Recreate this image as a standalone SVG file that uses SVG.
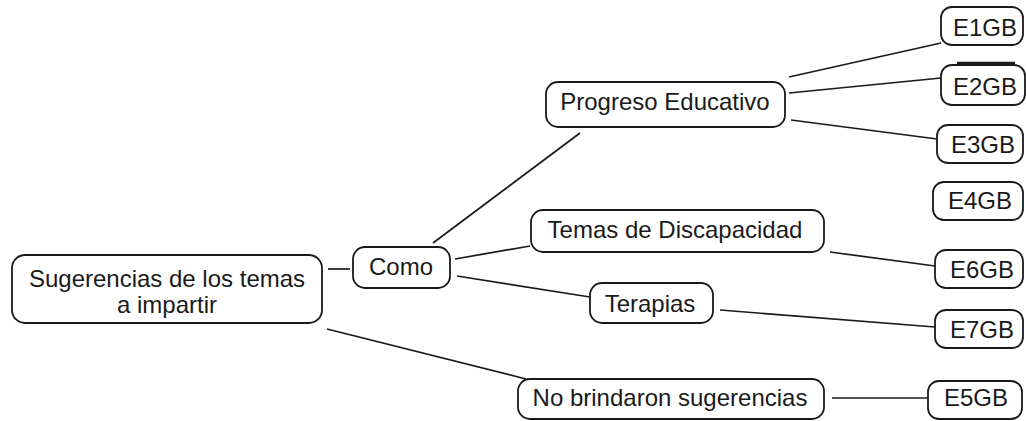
<svg xmlns="http://www.w3.org/2000/svg" width="1026" height="421" viewBox="0 0 1026 421">
<style>
.n{fill:#fff;stroke:#1a1a1a;stroke-width:1.8}
.t{font-family:"Liberation Sans",Arial,sans-serif;font-size:24px;fill:#1a1a1a;text-anchor:middle}
.c line{stroke:#1a1a1a;stroke-width:1.7}
</style>
<rect width="1026" height="421" fill="#fff"/>
<g class="c" id="connectors">
<line x1="328" y1="269" x2="350" y2="269"/>
<line x1="433" y1="243" x2="580" y2="133"/>
<line x1="455" y1="259" x2="530" y2="246"/>
<line x1="457" y1="276" x2="590" y2="297"/>
<line x1="327" y1="329" x2="526" y2="379"/>
<line x1="789" y1="77" x2="941" y2="43"/>
<line x1="789" y1="93" x2="941" y2="78"/>
<line x1="791" y1="120" x2="937" y2="139"/>
<line x1="830" y1="252" x2="935" y2="266"/>
<line x1="720" y1="310" x2="935" y2="327"/>
<line x1="832" y1="398" x2="928" y2="398"/>
<line x1="957" y1="63" x2="1015" y2="63" style="stroke-width:2.5"/>
</g>
<g id="root"><rect class="n" x="12" y="255" width="310" height="68" rx="13"/><text class="t" x="167" y="287">Sugerencias de los temas</text><text class="t" x="167" y="313">a impartir</text></g>
<g id="como"><rect class="n" x="353" y="247" width="97" height="41" rx="12"/><text class="t" x="401" y="275">Como</text></g>
<g id="progreso"><rect class="n" x="546" y="82" width="239" height="45" rx="12"/><text class="t" x="665" y="110">Progreso Educativo</text></g>
<g id="temas"><rect class="n" x="531" y="210" width="293" height="42" rx="12"/><text class="t" x="675" y="238">Temas de Discapacidad</text></g>
<g id="terapias"><rect class="n" x="590" y="283" width="123" height="40" rx="12"/><text class="t" x="650" y="312">Terapias</text></g>
<g id="nobrindaron"><rect class="n" x="518" y="379" width="306" height="40" rx="12"/><text class="t" x="670" y="406">No brindaron sugerencias</text></g>
<g id="e1gb"><rect class="n" x="941" y="7" width="82" height="38" rx="11"/><text class="t" x="985" y="36">E1GB</text></g>
<g id="e2gb"><rect class="n" x="941" y="65" width="84" height="40" rx="11"/><text class="t" x="985" y="95">E2GB</text></g>
<g id="e3gb"><rect class="n" x="937" y="125" width="86" height="38" rx="11"/><text class="t" x="983" y="153">E3GB</text></g>
<g id="e4gb"><rect class="n" x="933" y="182" width="90" height="38" rx="11"/><text class="t" x="980" y="209">E4GB</text></g>
<g id="e6gb"><rect class="n" x="935" y="250" width="88" height="38" rx="11"/><text class="t" x="982" y="278">E6GB</text></g>
<g id="e7gb"><rect class="n" x="935" y="310" width="88" height="38" rx="11"/><text class="t" x="982" y="338">E7GB</text></g>
<g id="e5gb"><rect class="n" x="928" y="381" width="94" height="38" rx="11"/><text class="t" x="976" y="406">E5GB</text></g>
</svg>
